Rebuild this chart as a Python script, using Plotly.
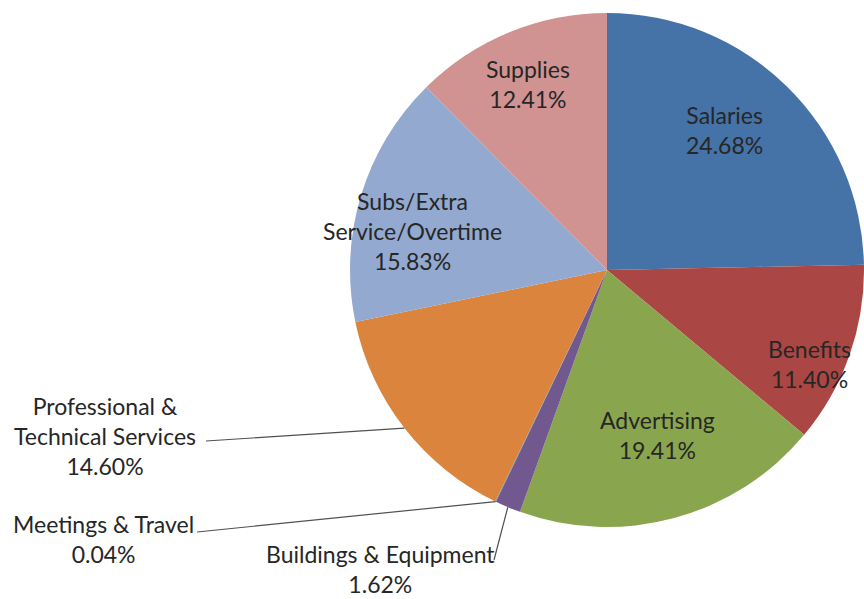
import math
import plotly.graph_objects as go

# ---- data ----
categories = ["Salaries", "Benefits", "Advertising", "Buildings & Equipment",
              "Meetings & Travel", "Professional & Technical Services",
              "Subs/Extra Service/Overtime", "Supplies"]
values = [24.68, 11.40, 19.41, 1.62, 0.04, 14.60, 15.83, 12.41]
label_text = ["Salaries", "Benefits", "Advertising", "Buildings & Equipment",
              "Meetings & Travel", "Professional &<br>Technical Services",
              "Subs/Extra<br>Service/Overtime", "Supplies"]
colors = ["#4572A7", "#AA4643", "#89A54E", "#71588F", "#4198AF",
          "#DB843D", "#93A9CF", "#D19392"]

W, H = 864, 599
# pie geometry (pixels)
left_px, right_px = 350, 864
top_px, bot_px = 10, 530
cx = (left_px + right_px) / 2
cy = (top_px + bot_px) / 2
R = min(right_px - left_px, bot_px - top_px) / 2

FONT = "Lato, 'Open Sans', sans-serif"
FS = 23
TXT = "#262626"

fig = go.Figure(go.Pie(
    labels=categories, values=values, sort=False, direction="clockwise",
    rotation=0, marker=dict(colors=colors, line=dict(width=0)),
    textinfo="none", hoverinfo="label+percent", showlegend=False,
    domain=dict(x=[left_px / W, right_px / W], y=[1 - bot_px / H, 1 - top_px / H]),
))

def px(x, y):
    return x / W, 1 - y / H

total = sum(values)
def mid_point(i, rfrac=1.0):
    start = sum(values[:i]) / total
    mid = start + values[i] / total / 2
    a = 2 * math.pi * mid
    return cx + R * rfrac * math.sin(a), cy - R * rfrac * math.cos(a)

# label positions (pixel centers)
label_pos = {
    0: (724, 130),
    1: (809, 364),
    2: (657, 435),
    3: (380, 569),
    4: (103, 539),
    5: (105, 436),
    6: (412, 231),
    7: (528, 84),
}
annotations = []
for i, (lx, ly) in label_pos.items():
    x, y = px(lx, ly)
    annotations.append(dict(
        x=x, y=y, xref="paper", yref="paper", xanchor="center", yanchor="middle",
        text=f"{label_text[i]}<br>{values[i]:.2f}%", showarrow=False,
        font=dict(family=FONT, size=FS, color=TXT), align="center"))

# leader lines: from label end to slice mid-point on the rim
leader_start = {5: (206, 441), 4: (197, 532), 3: (494, 560)}
shapes = []
for i, (sx, sy) in leader_start.items():
    ex, ey = mid_point(i)
    x0, y0 = px(sx, sy)
    x1, y1 = px(ex, ey)
    shapes.append(dict(type="line", xref="paper", yref="paper",
                       x0=x0, y0=y0, x1=x1, y1=y1,
                       line=dict(color="#505050", width=1.2)))

fig.update_layout(
    width=W, height=H, margin=dict(l=0, r=0, t=0, b=0),
    paper_bgcolor="white", plot_bgcolor="white",
    annotations=annotations, shapes=shapes,
)

fig.write_html("out.html", config={"displayModeBar": False},
               post_script="document.body.style.margin='0';document.body.style.overflow='hidden';")
